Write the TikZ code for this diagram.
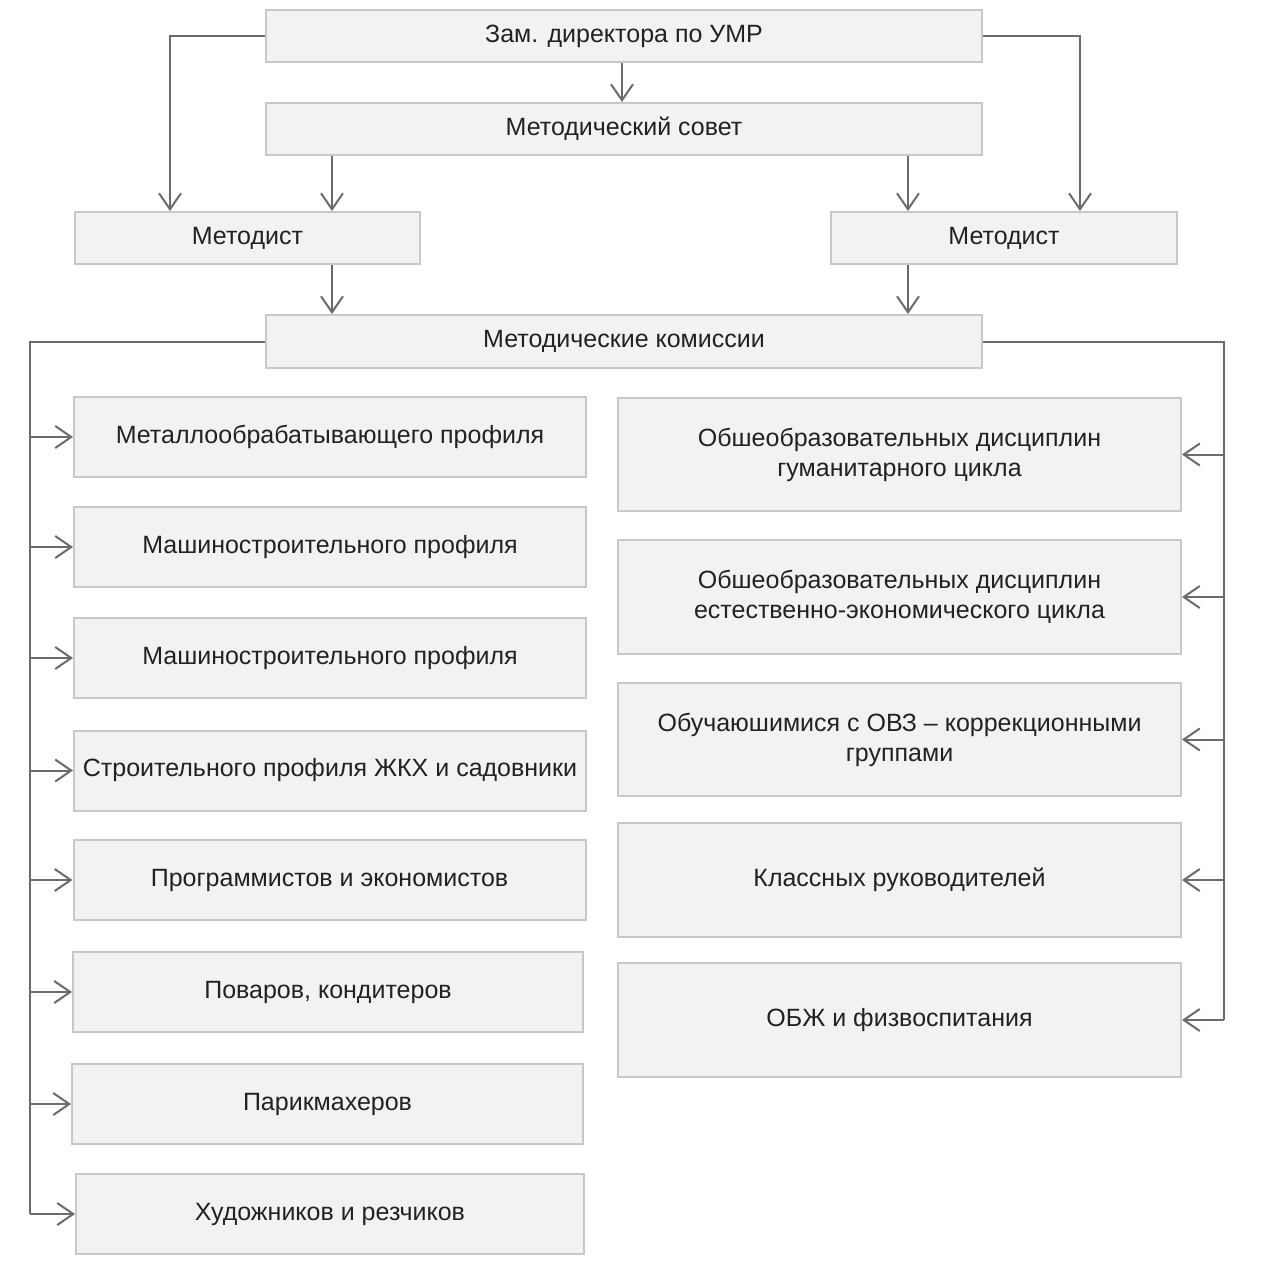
\documentclass[tikz,border=0pt]{standalone}
\usepackage{fontspec}
\setmainfont{Liberation Sans}
\usetikzlibrary{arrows.meta}
\definecolor{boxfill}{HTML}{F2F2F2}
\definecolor{boxline}{HTML}{C8C8C8}
\definecolor{arrline}{HTML}{6B6B6B}
\definecolor{txt}{HTML}{222222}
\newcommand{\boxfont}{\fontsize{12.5}{15}\selectfont\color{txt}}
\tikzset{
  box/.style={draw=boxline, fill=boxfill, line width=1pt, inner sep=0pt, align=center, font=\boxfont},
  bus/.style={draw=arrline, line width=1pt},
  arr/.style={bus, -{Straight Barb[length=8pt,width=11pt,line width=1pt]}}
}
\begin{document}
\begin{tikzpicture}[x=0.5pt,y=-0.5pt]
  \fill[white] (0,0) rectangle (1261,1281);
  \useasboundingbox (0,0) rectangle (1261,1281);
  % top part
  \node[box, minimum width=358pt, minimum height=26pt] (zam) at (624,36) {Зам. директора по УМР};
  \node[box, minimum width=358pt, minimum height=26pt] (sovet) at (624,129) {Методический совет};
  \node[box, minimum width=172.5pt, minimum height=26pt] (met1) at (247.5,238) {Методист};
  \node[box, minimum width=173pt, minimum height=26pt] (met2) at (1004,238) {Методист};
  \node[box, minimum width=358pt, minimum height=26.5pt] (kom) at (624,341.5) {Методические комиссии};
  % left column
  \node[box, minimum width=256pt, minimum height=40pt] (l1) at (330,437) {Металлообрабатывающего профиля};
  \node[box, minimum width=256pt, minimum height=40pt] (l2) at (330,547) {Машиностроительного профиля};
  \node[box, minimum width=256pt, minimum height=40pt] (l3) at (330,658) {Машиностроительного профиля};
  \node[box, minimum width=256pt, minimum height=40pt] (l4) at (330,770.5) {Строительного профиля ЖКХ и садовники};
  \node[box, minimum width=256pt, minimum height=40pt] (l5) at (329.5,880) {Программистов и экономистов};
  \node[box, minimum width=255pt, minimum height=40pt] (l6) at (328,992) {Поваров, кондитеров};
  \node[box, minimum width=255.5pt, minimum height=40pt] (l7) at (327.5,1104) {Парикмахеров};
  \node[box, minimum width=254pt, minimum height=40pt] (l8) at (330,1214) {Художников и резчиков};
  % right column
  \node[box, minimum width=281.5pt, minimum height=56.5pt] (r1) at (899.5,454.5) {Обшеобразовательных дисциплин\\гуманитарного цикла};
  \node[box, minimum width=281.5pt, minimum height=57pt] (r2) at (899.5,597) {Обшеобразовательных дисциплин\\естественно-экономического цикла};
  \node[box, minimum width=281.5pt, minimum height=56.5pt] (r3) at (899.5,739.5) {Обучаюшимися с ОВЗ -- коррекционными\\группами};
  \node[box, minimum width=281.5pt, minimum height=57pt] (r4) at (899.5,880) {Классных руководителей};
  \node[box, minimum width=281.5pt, minimum height=57pt] (r5) at (899.5,1020) {ОБЖ и физвоспитания};
  % helper coordinates
  \coordinate (ol) at (170,0);
  \coordinate (or) at (1080,0);
  \coordinate (cl) at (332,0);
  \coordinate (cr) at (908,0);
  \coordinate (lbus) at (30,1214);
  \coordinate (rbus) at (1224,1020);
  % arrows
  \draw[arr] (zam.south -| 622,0) -- (sovet.north -| 622,0);
  \draw[arr] (zam.west) -| (met1.north -| ol);
  \draw[arr] (zam.east) -| (met2.north -| or);
  \draw[arr] (sovet.south -| cl) -- (met1.north -| cl);
  \draw[arr] (sovet.south -| cr) -- (met2.north -| cr);
  \draw[arr] (met1.south -| cl) -- (kom.north -| cl);
  \draw[arr] (met2.south -| cr) -- (kom.north -| cr);
  \draw[bus] (kom.west) -| (lbus);
  \draw[bus] (kom.east) -| (rbus);
  \foreach \n in {l1,l2,l3,l4,l5,l6,l7,l8}
    \draw[arr] (\n.west -| lbus) -- (\n.west);
  \foreach \n in {r1,r2,r3,r4,r5}
    \draw[arr] (\n.east -| rbus) -- (\n.east);
\end{tikzpicture}
\end{document}
